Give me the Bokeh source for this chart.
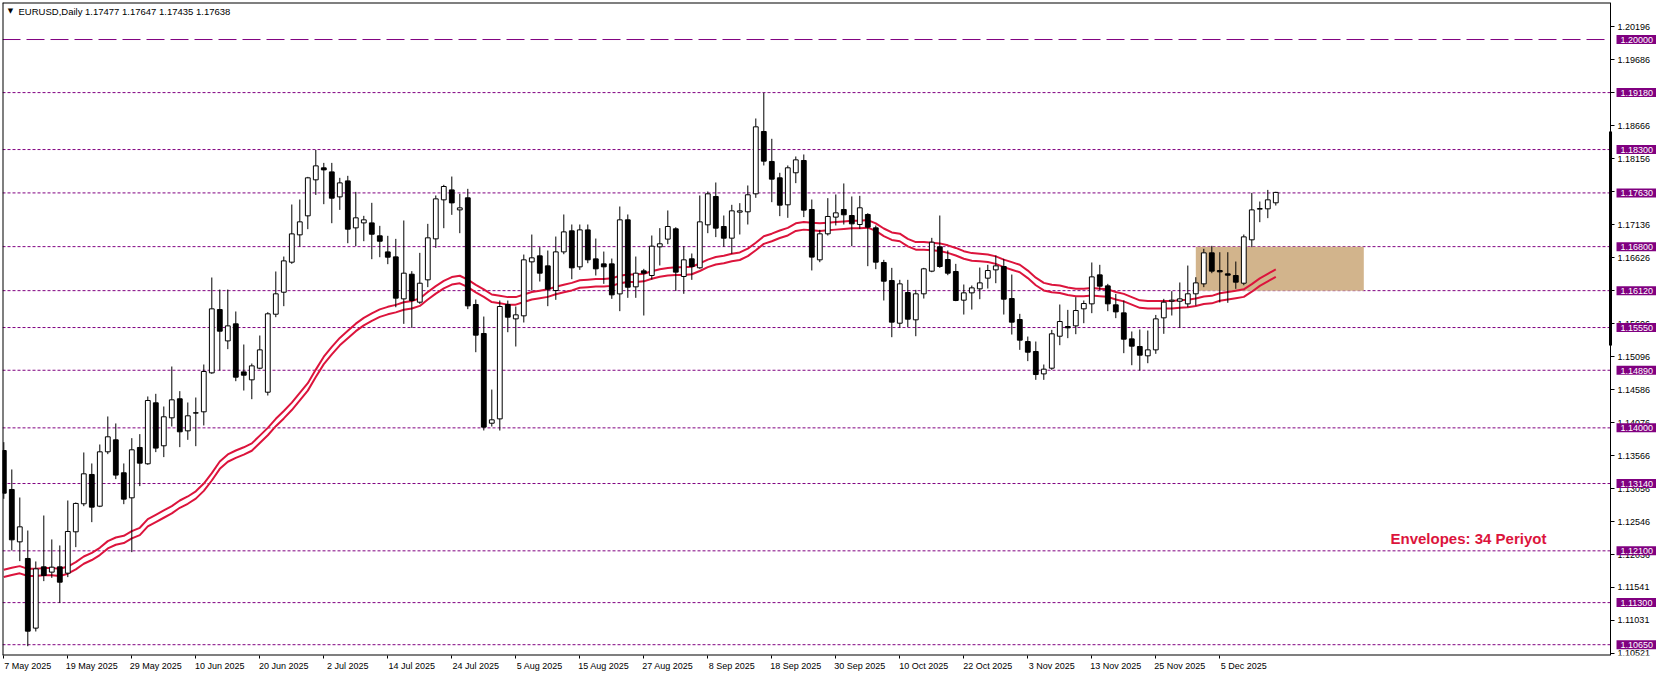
from bokeh.plotting import figure
from bokeh.models import (Range1d, FixedTicker, PrintfTickFormatter,
                          Span, Label, ColumnDataSource)
from bokeh.embed import file_html
from bokeh.resources import INLINE

# ---------------- data ----------------
opens = [
    1.13650, 1.13048, 1.12239, 1.11982, 1.10906, 1.11853, 1.11771, 1.11853, 1.11755, 1.12394,
    1.12827, 1.13280, 1.12790, 1.13630, 1.13815, 1.13306, 1.12919, 1.13697, 1.13445, 1.14387,
    1.13723, 1.14155, 1.14449, 1.13954, 1.14233, 1.14248, 1.14850, 1.15828, 1.15344, 1.15607,
    1.14865, 1.14742, 1.14922, 1.14551, 1.15756, 1.16096, 1.16560, 1.16982, 1.17276, 1.17832,
    1.18017, 1.17955, 1.17569, 1.17816, 1.17090, 1.17167, 1.17167, 1.16967, 1.16719, 1.16642,
    1.15993, 1.16374, 1.15942, 1.16287, 1.16920, 1.17523, 1.17677, 1.17368, 1.17554, 1.15906,
    1.15458, 1.14072, 1.14139, 1.15906, 1.15684, 1.15731, 1.16565, 1.16658, 1.16503, 1.16122,
    1.16719, 1.17044, 1.16488, 1.17059, 1.16611, 1.16534, 1.16534, 1.16070, 1.17214, 1.16179,
    1.16426, 1.16354, 1.16797, 1.16916, 1.17075, 1.16339, 1.16612, 1.16473, 1.17137, 1.17575,
    1.17111, 1.16931, 1.17333, 1.17338, 1.17616, 1.18579, 1.18116, 1.17863, 1.17446, 1.17941,
    1.18131, 1.17374, 1.16596, 1.16998, 1.17256, 1.17374, 1.17281, 1.17142, 1.17297, 1.17090,
    1.16555, 1.16276, 1.15617, 1.16091, 1.15669, 1.16071, 1.16421, 1.16797, 1.16601, 1.16416,
    1.15973, 1.16086, 1.16148, 1.16313, 1.16441, 1.16493, 1.15998, 1.15674, 1.15334, 1.15180,
    1.14834, 1.14922, 1.15416, 1.15566, 1.15576, 1.15839, 1.15916, 1.16364, 1.16194, 1.15901,
    1.15777, 1.15375, 1.15257, 1.15113, 1.15205, 1.15700, 1.15957, 1.15957, 1.15916, 1.16071,
    1.16225, 1.16704, 1.16431, 1.16380, 1.16354, 1.16235, 1.16905, 1.17379, 1.17384, 1.17477,
]
highs = [
    1.13779, 1.13357, 1.12924, 1.12414, 1.11936, 1.12646, 1.12276, 1.12183, 1.12878, 1.12847,
    1.13620, 1.13450, 1.13743, 1.14176, 1.14068, 1.13450, 1.13841, 1.13903, 1.14485, 1.14526,
    1.14330, 1.14948, 1.14567, 1.14392, 1.14469, 1.14979, 1.16323, 1.16137, 1.16137, 1.15798,
    1.15288, 1.14994, 1.15427, 1.15787, 1.16416, 1.16647, 1.17451, 1.17528, 1.17878, 1.18295,
    1.18094, 1.18094, 1.17863, 1.17894, 1.17646, 1.17276, 1.17477, 1.17121, 1.16967, 1.16920,
    1.17204, 1.16421, 1.16704, 1.17152, 1.17590, 1.17755, 1.17883, 1.17616, 1.17693, 1.15983,
    1.15720, 1.14592, 1.15967, 1.15967, 1.15875, 1.16678, 1.16987, 1.16792, 1.16740, 1.16956,
    1.17297, 1.17142, 1.17142, 1.17142, 1.16925, 1.16724, 1.16616, 1.17420, 1.17297, 1.16647,
    1.16457, 1.16972, 1.17086, 1.17359, 1.17100, 1.16807, 1.16694, 1.17590, 1.17652, 1.17791,
    1.17281, 1.17446, 1.17472, 1.17745, 1.18780, 1.19176, 1.18466, 1.17941, 1.18054, 1.18193,
    1.18224, 1.17528, 1.17060, 1.17549, 1.17606, 1.17776, 1.17575, 1.17585, 1.17317, 1.17126,
    1.16596, 1.16472, 1.16287, 1.16287, 1.16132, 1.16472, 1.16936, 1.17281, 1.16740, 1.16534,
    1.16215, 1.16199, 1.16477, 1.16519, 1.16663, 1.16611, 1.16369, 1.15762, 1.15411, 1.15334,
    1.14979, 1.15514, 1.15906, 1.15823, 1.16019, 1.15968, 1.16555, 1.16519, 1.16225, 1.16070,
    1.15968, 1.15489, 1.15520, 1.15504, 1.15745, 1.15993, 1.16112, 1.16246, 1.16508, 1.16328,
    1.16766, 1.16812, 1.16714, 1.16714, 1.16570, 1.16987, 1.17631, 1.17497, 1.17677, 1.17647,
]
lows = [
    1.12904, 1.12106, 1.11941, 1.10627, 1.10854, 1.11632, 1.11683, 1.11297, 1.11694, 1.12157,
    1.12790, 1.12543, 1.12775, 1.13594, 1.13208, 1.12821, 1.12080, 1.13100, 1.13429, 1.13625,
    1.13548, 1.14021, 1.13702, 1.13815, 1.13717, 1.14037, 1.14835, 1.14886, 1.15216, 1.14721,
    1.14577, 1.14443, 1.14907, 1.14500, 1.15710, 1.15880, 1.16534, 1.16797, 1.17070, 1.17600,
    1.17456, 1.17162, 1.17368, 1.16853, 1.16807, 1.16884, 1.16606, 1.16637, 1.16529, 1.15864,
    1.15607, 1.15545, 1.15916, 1.16174, 1.16781, 1.17085, 1.17291, 1.17008, 1.15834, 1.15169,
    1.13960, 1.14021, 1.13959, 1.15478, 1.15257, 1.15628, 1.16122, 1.16261, 1.15880, 1.15978,
    1.16683, 1.16297, 1.16441, 1.16544, 1.16354, 1.16225, 1.15993, 1.15803, 1.16009, 1.16009,
    1.15736, 1.16292, 1.16509, 1.16838, 1.16117, 1.16071, 1.16287, 1.16457, 1.17008, 1.16947,
    1.16797, 1.16689, 1.16988, 1.17142, 1.17554, 1.18054, 1.17487, 1.17271, 1.17245, 1.17781,
    1.17256, 1.16432, 1.16560, 1.16972, 1.17127, 1.17142, 1.16807, 1.17075, 1.16498, 1.16452,
    1.15968, 1.15401, 1.15545, 1.15556, 1.15416, 1.15998, 1.16405, 1.16472, 1.16359, 1.15957,
    1.15751, 1.15828, 1.15988, 1.16153, 1.16235, 1.15751, 1.15442, 1.15205, 1.15031, 1.14742,
    1.14742, 1.14896, 1.15277, 1.15386, 1.15447, 1.15617, 1.15772, 1.16132, 1.15803, 1.15695,
    1.15154, 1.14968, 1.14886, 1.14999, 1.15144, 1.15453, 1.15736, 1.15545, 1.15865, 1.15890,
    1.16174, 1.16390, 1.15937, 1.15932, 1.16148, 1.16204, 1.16792, 1.17178, 1.17240, 1.17435,
]
closes = [
    1.12991, 1.12270, 1.12471, 1.10859, 1.11822, 1.11719, 1.11848, 1.11616, 1.12399, 1.12832,
    1.13290, 1.12775, 1.13630, 1.13862, 1.13270, 1.12899, 1.13661, 1.13455, 1.14423, 1.13687,
    1.14171, 1.14433, 1.13939, 1.14186, 1.14228, 1.14871, 1.15839, 1.15494, 1.15576, 1.14783,
    1.14814, 1.14958, 1.15205, 1.15762, 1.16071, 1.16580, 1.16997, 1.17183, 1.17863, 1.18048,
    1.17986, 1.17549, 1.17785, 1.17070, 1.17245, 1.17214, 1.16992, 1.16884, 1.16637, 1.16004,
    1.16390, 1.15968, 1.16235, 1.16936, 1.17538, 1.17729, 1.17476, 1.17399, 1.15885, 1.15432,
    1.14011, 1.14124, 1.15875, 1.15710, 1.15746, 1.16596, 1.16627, 1.16390, 1.16143, 1.16719,
    1.17028, 1.16472, 1.17059, 1.16596, 1.16457, 1.16488, 1.16055, 1.17214, 1.16173, 1.16390,
    1.16390, 1.16807, 1.16844, 1.17111, 1.16406, 1.16596, 1.16493, 1.17183, 1.17616, 1.17086,
    1.16931, 1.17353, 1.17353, 1.17601, 1.18651, 1.18121, 1.17843, 1.17441, 1.18018, 1.18141,
    1.17364, 1.16638, 1.16998, 1.17266, 1.17322, 1.17292, 1.17152, 1.17400, 1.17101, 1.16560,
    1.16266, 1.15633, 1.16225, 1.15679, 1.16071, 1.16457, 1.16869, 1.16493, 1.16390, 1.15968,
    1.16086, 1.16163, 1.16240, 1.16431, 1.16503, 1.15988, 1.15633, 1.15355, 1.15169, 1.14824,
    1.14907, 1.15453, 1.15643, 1.15545, 1.15813, 1.15921, 1.16333, 1.16189, 1.15916, 1.15792,
    1.15370, 1.15262, 1.15123, 1.15205, 1.15684, 1.15942, 1.15973, 1.15993, 1.16071, 1.16240,
    1.16704, 1.16421, 1.16410, 1.16359, 1.16251, 1.16951, 1.17368, 1.17389, 1.17523, 1.17638,
]
# upper band of the Envelopes indicator, read per bar
env_upper = [
    1.11807, 1.11838, 1.11864, 1.11822, 1.11822, 1.11833, 1.11833, 1.11822, 1.11858, 1.11925,
    1.12013, 1.12070, 1.12147, 1.12250, 1.12306, 1.12332, 1.12404, 1.12456, 1.12590, 1.12657,
    1.12724, 1.12791, 1.12878, 1.12940, 1.13020, 1.13140, 1.13300, 1.13480, 1.13590, 1.13650,
    1.13700, 1.13760, 1.13880, 1.14000, 1.14140, 1.14260, 1.14390, 1.14540, 1.14690, 1.14900,
    1.15100, 1.15250, 1.15390, 1.15500, 1.15610, 1.15700, 1.15770, 1.15830, 1.15870, 1.15900,
    1.15940, 1.15960, 1.16000, 1.16100, 1.16190, 1.16270, 1.16330, 1.16350, 1.16290, 1.16210,
    1.16140, 1.16060, 1.16040, 1.16020, 1.16020, 1.16060, 1.16100, 1.16120, 1.16140, 1.16180,
    1.16210, 1.16240, 1.16280, 1.16290, 1.16300, 1.16300, 1.16310, 1.16350, 1.16370, 1.16370,
    1.16380, 1.16420, 1.16450, 1.16470, 1.16480, 1.16480, 1.16490, 1.16540, 1.16600, 1.16640,
    1.16660, 1.16690, 1.16710, 1.16770, 1.16860, 1.16960, 1.17000, 1.17050, 1.17090, 1.17160,
    1.17180, 1.17170, 1.17160, 1.17170, 1.17180, 1.17190, 1.17200, 1.17200, 1.17210, 1.17160,
    1.17080, 1.17020, 1.17000, 1.16920, 1.16870, 1.16870, 1.16860, 1.16850, 1.16820, 1.16780,
    1.16730, 1.16700, 1.16690, 1.16680, 1.16650, 1.16600, 1.16560, 1.16520, 1.16430, 1.16320,
    1.16240, 1.16210, 1.16200, 1.16170, 1.16150, 1.16150, 1.16160, 1.16150, 1.16140, 1.16100,
    1.16070, 1.16020, 1.15970, 1.15960, 1.15960, 1.15960, 1.15960, 1.15970, 1.15980, 1.16000,
    1.16030, 1.16040, 1.16080, 1.16100, 1.16120, 1.16140, 1.16220, 1.16310, 1.16380, 1.16450,
]
ENV_DEVIATION = 0.0005  # 0.05 % band deviation of the Envelopes indicator

levels = [1.2000, 1.1918, 1.1830, 1.1763, 1.1680, 1.1612, 1.1555, 1.1489,
          1.1400, 1.1314, 1.1210, 1.1130, 1.1065]
level_labels = ["1.20000", "1.19180", "1.18300", "1.17630", "1.16800", "1.16120", "1.15550",
                "1.14890", "1.14000", "1.13140", "1.12100", "1.11300", "1.10650"]
level_long_dash = [True] + [False] * 12

price_ticks = [1.20196, 1.19686, 1.19176, 1.18666, 1.18156, 1.17646, 1.17136, 1.16626,
               1.16116, 1.15606, 1.15096, 1.14586, 1.14076, 1.13566, 1.13056, 1.12546,
               1.12036, 1.11541, 1.11031, 1.10521]
scale_marker = (1.15272, 1.18579)   # thick segment on the price scale

date_tick_bars = [0, 8, 16, 24, 32, 40, 48, 56, 64, 72, 80, 88, 96, 104, 112, 120, 128,
                  136, 144, 152]
date_tick_labels = ["7 May 2025", "19 May 2025", "29 May 2025", "10 Jun 2025", "20 Jun 2025",
                    "2 Jul 2025", "14 Jul 2025", "24 Jul 2025", "5 Aug 2025", "15 Aug 2025",
                    "27 Aug 2025", "8 Sep 2025", "18 Sep 2025", "30 Sep 2025", "10 Oct 2025",
                    "22 Oct 2025", "3 Nov 2025", "13 Nov 2025", "25 Nov 2025", "5 Dec 2025"]

zone_bars = (149, 170)
zone_prices = (1.1612, 1.1680)

header_text = "EURUSD,Daily  1.17477 1.17647 1.17435 1.17638"
indicator_text = "Envelopes: 34 Periyot"

# ---------------- styling / layout ----------------
FONT = "Liberation Sans"
PURPLE = "#800080"
CRIMSON = "#DC143C"
TAN = "#D2B48C"
PX_PER_BAR = 8.0
FRAME_W, FRAME_H = 1654, 653
X0 = -0.1625
X1 = X0 + FRAME_W / PX_PER_BAR
AX = 200.84            # bar coordinate of the price-scale line
Y0, Y1 = 1.10483, 1.20572

p = figure(frame_width=FRAME_W, frame_height=FRAME_H,
           x_range=Range1d(X0, X1), y_range=Range1d(Y0, Y1),
           output_backend="svg", toolbar_location=None,
           y_axis_location="right",
           min_border_left=2, min_border_top=2, min_border_bottom=0, min_border_right=0,
           background_fill_color="white", border_fill_color="white",
           outline_line_color=None)
p.grid.visible = False

# price scale (drawn at the chart's right edge, inside the canvas)
ya = p.yaxis[0]
ya.fixed_location = AX
ya.ticker = FixedTicker(ticks=price_ticks)
ya.formatter = PrintfTickFormatter(format="%.5f")
ya.major_tick_out = 4
ya.major_tick_in = 0
ya.minor_tick_line_color = None
ya.major_label_standoff = 3
ya.major_label_text_font = FONT
ya.major_label_text_font_size = "9px"
ya.major_label_text_color = "black"
ya.axis_line_color = "black"

# date axis: minor ticks mark the labelled bars, labels start at those bars
LABEL_SHIFT = 3
shifted = [b + LABEL_SHIFT for b in date_tick_bars]
xa = p.xaxis[0]
xa.ticker = FixedTicker(ticks=shifted, minor_ticks=date_tick_bars)
xa.major_label_overrides = {s: t for s, t in zip(shifted, date_tick_labels)}
xa.axis_line_color = None
xa.major_tick_line_color = None
xa.major_tick_out = 3
xa.major_tick_in = 0
xa.minor_tick_line_color = "black"
xa.minor_tick_out = 3
xa.minor_tick_in = 0
xa.major_label_standoff = 2
xa.major_label_text_font = FONT
xa.major_label_text_font_size = "9px"
xa.major_label_text_color = "black"

# chart borders (left, top, bottom) up to the price scale
p.add_layout(Span(location=X0, dimension="height", line_color="black", line_width=2))
p.segment(x0=[X0, X0], x1=[AX, AX], y0=[Y1, Y0], y1=[Y1, Y0], line_color="black", line_width=2)

# horizontal levels
for lv, longd in zip(levels, level_long_dash):
    p.segment(x0=[X0], x1=[AX], y0=[lv], y1=[lv], line_color=PURPLE, line_width=1,
              line_dash="18 6" if longd else "3 2")

# tan zone
p.quad(left=[zone_bars[0]], right=[zone_bars[1]], bottom=[zone_prices[0]],
       top=[zone_prices[1]], fill_color=TAN, line_color=None)

# envelopes
idx = list(range(len(opens)))
env_lower = [u * (1 - ENV_DEVIATION) / (1 + ENV_DEVIATION) for u in env_upper]
p.line(idx, env_upper, line_color=CRIMSON, line_width=2)
p.line(idx, env_lower, line_color=CRIMSON, line_width=2)

# candles
src = ColumnDataSource(dict(
    x=idx, h=highs, l=lows,
    top=[max(o, c) for o, c in zip(opens, closes)],
    bottom=[min(o, c) for o, c in zip(opens, closes)],
    fill=["white" if c >= o else "black" for o, c in zip(opens, closes)],
))
p.segment(x0="x", y0="l", x1="x", y1="h", source=src, line_color="black", line_width=1)
p.vbar(x="x", width=0.6, top="top", bottom="bottom", source=src,
       fill_color="fill", line_color="black", line_width=1)

# thick marker on the price scale
p.segment(x0=[AX], x1=[AX], y0=[scale_marker[0]], y1=[scale_marker[1]],
          line_color="black", line_width=3)

# level boxes on the price scale
for lv, txt in zip(levels, level_labels):
    p.add_layout(Label(x=AX, y=lv, x_offset=6, text=txt, text_align="left",
                       text_baseline="middle", text_font=FONT, text_font_size="9px",
                       text_color="white", background_fill_color=PURPLE,
                       padding=dict(left=4, right=4, top=2, bottom=1), level="overlay"))

# header
p.add_layout(Label(x=0.84, y=1.20437, text="\u25BC", text_font="DejaVu Sans",
                   text_font_size="7px", text_color="black", text_baseline="middle",
                   text_align="center", level="overlay"))
p.add_layout(Label(x=1.84, y=1.20437, text=header_text, text_font=FONT,
                   text_font_size="9.5px", text_color="black", text_baseline="middle",
                   text_align="left", level="overlay"))

# indicator note
p.add_layout(Label(x=173.34, y=1.12290, text=indicator_text, text_font=FONT,
                   text_font_size="15px", text_font_style="bold", text_color=CRIMSON,
                   text_baseline="middle", text_align="left"))

open("out.html", "w").write(file_html(p, INLINE))
